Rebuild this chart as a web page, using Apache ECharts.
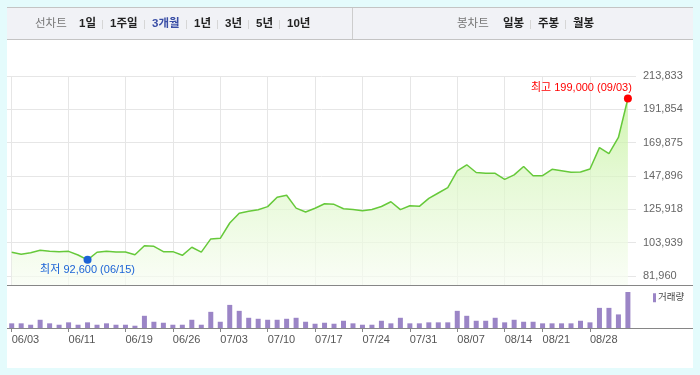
<!DOCTYPE html>
<html><head><meta charset="utf-8">
<script src="https://cdn.jsdelivr.net/npm/echarts@6/dist/echarts.min.js"></script>
<style>html,body{margin:0;padding:0;background:#e4fbfc;}#c{width:700px;height:375px;}</style>
</head><body><div id="c"></div>
<script>
// ---------- data ----------
const dates = [
 '06/03','06/04','06/05','06/08','06/09','06/10','06/11','06/12','06/15','06/16',
 '06/17','06/18','06/19','06/22','06/23','06/24','06/25','06/26','06/29','06/30',
 '07/01','07/02','07/03','07/06','07/07','07/08','07/09','07/10','07/13','07/14',
 '07/15','07/16','07/17','07/20','07/21','07/22','07/23','07/24','07/27','07/28',
 '07/29','07/30','07/31','08/03','08/04','08/05','08/06','08/07','08/10','08/11',
 '08/12','08/13','08/14','08/18','08/19','08/20','08/21','08/24','08/25','08/26',
 '08/27','08/28','08/31','09/01','09/02','09/03'];
const prices = [
 97600,96300,97300,98900,98200,98000,98200,95800,92600,97600,
 98200,97800,97800,96000,101900,101500,98000,98000,95600,100900,
 97700,106400,106800,116900,123400,124600,125700,127700,133900,135200,
 126700,124200,126600,129600,129200,126300,125800,125000,125800,127800,
 130900,125700,128300,127900,133100,136700,140200,151300,155300,150200,
 149700,149700,145700,148600,154200,148100,148100,152300,151300,150300,
 150500,152500,166600,162600,173300,199000];
const volumes = [
 188000,188000,132000,332000,188000,132000,228000,132000,228000,132000,
 188000,132000,132000,92000,492000,252000,212000,132000,132000,332000,
 132000,652000,252000,932000,692000,412000,372000,332000,332000,372000,
 412000,252000,172000,212000,172000,292000,188000,132000,132000,292000,
 188000,412000,188000,188000,228000,228000,228000,692000,492000,292000,
 292000,412000,228000,332000,252000,252000,188000,188000,188000,188000,
 292000,228000,812000,812000,548000,1452000];
const xTickLabels = ['06/03','06/11','06/19','06/26','07/03','07/10','07/17','07/24','07/31','08/07','08/14','08/21','08/28'];
const yTickLabels = ['81,960','103,939','125,918','147,896','169,875','191,854','213,833'];
const yTickValues = [81960,103939,125918,147896,169875,191854,213833];
const periodTabs = ['1일','1주일','3개월','1년','3년','5년','10년'];
const candleTabs = ['일봉','주봉','월봉'];
const lineTabTitle = '선차트';
const candleTabTitle = '봉차트';
const volumeName = '거래량';
const activeTab = '3개월';

// ---------- layout ----------
const FONT = "'Liberation Sans','Noto Sans CJK KR',sans-serif";
const plotTop = 76, labelBottom = 276, paneBottom = 285.5, volBottom = 328;
const dataLeft = 11.7, dataRight = 627.9, gridRightEdge = 636, panelL = 7, panelR = 693;
const yTop = yTickValues[yTickValues.length - 1];
const yLow = yTickValues[0];
const perPx = (yTop - yLow) / (labelBottom - plotTop);
const lineMin = yTop - (paneBottom - plotTop) * perPx;
const volMax = Math.max(...volumes) * (volBottom - paneBottom) / 36;
const GRID = '#e6e6e6';

const isTick = (i) => xTickLabels.indexOf(dates[i]) >= 0;
const fmt = (v) => v.toLocaleString('en-US');
let iMax = 0, iMin = 0;
prices.forEach((p, i) => { if (p > prices[iMax]) iMax = i; if (p < prices[iMin]) iMin = i; });

const mctx = document.createElement('canvas').getContext('2d');
function tw(t, font) { mctx.font = font; return mctx.measureText(t).width; }

const graphics = [];
graphics.push({type:'rect', z:-100, silent:true, shape:{x:panelL, y:40, width:panelR-panelL, height:328}, style:{fill:'#ffffff'}});
graphics.push({type:'rect', z:-100, silent:true, shape:{x:panelL, y:7.5, width:panelR-panelL, height:32}, style:{fill:'#f1f2f6'}});
graphics.push({type:'line', silent:true, shape:{x1:panelL, y1:7.5, x2:panelR, y2:7.5}, style:{stroke:'#c4c4c4', lineWidth:1}});
graphics.push({type:'line', silent:true, shape:{x1:panelL, y1:39.5, x2:panelR, y2:39.5}, style:{stroke:'#c4c4c4', lineWidth:1}});
graphics.push({type:'line', silent:true, shape:{x1:352.5, y1:8, x2:352.5, y2:39}, style:{stroke:'#cdcdcd', lineWidth:1}});

function addTabs(title, titleX, tabs, startX) {
  const fN = '11.5px ' + FONT, fB = 'bold 11.5px ' + FONT;
  graphics.push({type:'text', silent:true, x:titleX, y:24, style:{text:title, fill:'#777777', font:fN, verticalAlign:'middle'}});
  let x = startX;
  tabs.forEach((t, k) => {
    graphics.push({type:'text', silent:true, x:x, y:24, style:{text:t, fill: t === activeTab ? '#3a4ea6' : '#222222', font:fB, verticalAlign:'middle'}});
    const w = tw(t, fB);
    if (k < tabs.length - 1) {
      const sx = Math.round(x + w + 6) + 0.5;
      graphics.push({type:'line', silent:true, shape:{x1:sx, y1:20, x2:sx, y2:29}, style:{stroke:'#d6d6d6', lineWidth:1}});
      x = sx + 7.5;
    }
  });
}
addTabs(lineTabTitle, 35, periodTabs, 79);
addTabs(candleTabTitle, 457, candleTabs, 503);

graphics.push({type:'line', z:50, silent:true, shape:{x1:panelL, y1:paneBottom, x2:panelR, y2:paneBottom}, style:{stroke:'#868686', lineWidth:1}});
graphics.push({type:'line', z:50, silent:true, shape:{x1:panelL, y1:volBottom + 0.5, x2:panelR, y2:volBottom + 0.5}, style:{stroke:'#868686', lineWidth:1}});

const chart = echarts.init(document.getElementById('c'), null, {renderer:'canvas'});
const option = {
  backgroundColor: '#e4fbfc',
  animation: false,
  textStyle: {fontFamily: FONT},
  graphic: graphics,
  legend: {
    data: [volumeName], left: 653, top: 293, padding: 0, icon: 'rect', itemWidth: 3, itemHeight: 9,
    selectedMode: false,
    textStyle: {fontSize: 9.5, color: '#444', fontFamily: FONT, padding: [0,0,0,-3]}
  },
  grid: [
    {left: panelL, right: 700 - gridRightEdge, top: plotTop, height: labelBottom - plotTop, outerBoundsMode: 'none', containLabel: false},
    {left: dataLeft, right: 700 - dataRight, top: plotTop, height: paneBottom - plotTop, outerBoundsMode: 'none', containLabel: false},
    {left: dataLeft, right: 700 - dataRight, top: paneBottom, height: volBottom - paneBottom, outerBoundsMode: 'none', containLabel: false}
  ],
  xAxis: [
    {gridIndex: 0, type: 'value', min: 0, max: 1, show: false},
    {gridIndex: 1, type: 'category', data: dates, boundaryGap: false,
     axisLine: {show: false}, axisTick: {show: false}, axisLabel: {show: false},
     splitLine: {show: true, interval: (i) => isTick(i), lineStyle: {color: GRID, width: 1}}},
    {gridIndex: 2, type: 'category', data: dates, boundaryGap: false,
     axisLine: {show: false},
     axisTick: {show: true, interval: (i) => isTick(i), length: 4, lineStyle: {color: '#888', width: 1}},
     axisLabel: {show: true, interval: (i) => isTick(i), align: 'left', margin: 6, color: '#555', fontSize: 11, fontFamily: FONT},
     splitLine: {show: false}}
  ],
  yAxis: [
    {gridIndex: 0, type: 'value', position: 'right', min: 0, max: yTickLabels.length - 1, interval: 1,
     axisLine: {show: false}, axisTick: {show: false},
     axisLabel: {show: true, margin: 7, color: '#666', fontSize: 11, fontFamily: FONT, showMinLabel: true, showMaxLabel: true,
       formatter: (v) => yTickLabels[Math.round(v)]},
     splitLine: {show: true, lineStyle: {color: GRID, width: 1}}},
    {gridIndex: 1, type: 'value', min: lineMin, max: yTop, show: false, splitLine: {show: false}},
    {gridIndex: 2, type: 'value', min: 0, max: volMax, show: false, splitLine: {show: false}}
  ],
  series: [
    {
      name: '종가', type: 'line', xAxisIndex: 1, yAxisIndex: 1, data: prices,
      showSymbol: false, symbol: 'none', clip: false,
      lineStyle: {color: '#66c93a', width: 1.5},
      areaStyle: {origin: 'start', color: new echarts.graphic.LinearGradient(0, 0, 0, 1, [
        {offset: 0, color: '#bdf08f'}, {offset: 0.45, color: '#dcf7c6'}, {offset: 1, color: '#f8fdf3'}])},
      markPoint: {
        symbol: 'circle', symbolSize: 8, silent: true,
        data: [
          {coord: [iMax, prices[iMax]], value: prices[iMax], itemStyle: {color: '#ff0000'},
           label: {show: true, formatter: '최고 ' + fmt(prices[iMax]) + ' (' + dates[iMax] + ')',
             position: [8, -6.5], align: 'right', verticalAlign: 'middle', color: '#ff0000', fontSize: 11, fontFamily: FONT}},
          {coord: [iMin, prices[iMin]], value: prices[iMin], itemStyle: {color: '#1b63d6'},
           label: {show: true, formatter: '최저 ' + fmt(prices[iMin]) + ' (' + dates[iMin] + ')',
             position: [4, 14], align: 'center', verticalAlign: 'middle', color: '#1b63d6', fontSize: 11, fontFamily: FONT}}
        ]
      }
    },
    {
      name: volumeName, type: 'bar', xAxisIndex: 2, yAxisIndex: 2, data: volumes,
      barWidth: 5, clip: false, itemStyle: {color: '#9b85c6'}
    }
  ]
};
chart.setOption(option);
</script>
</body></html>
